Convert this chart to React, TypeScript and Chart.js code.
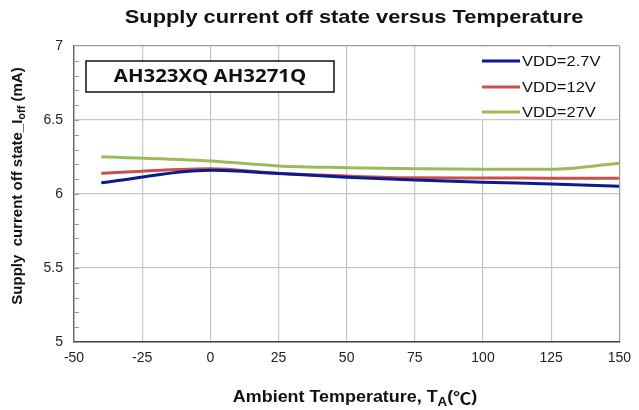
import { useEffect, useRef } from 'react';
import { Chart, registerables } from 'chart.js';
Chart.register(...registerables);

const temperatures = [-40, 0, 25, 50, 75, 100, 125, 150];
const seriesLabels = ['VDD=2.7V', 'VDD=12V', 'VDD=27V'];
const vdd2p7 = [6.076, 6.16, 6.138, 6.114, 6.095, 6.079, 6.068, 6.052];
const vdd12 = [6.14, 6.17, 6.14, 6.121, 6.109, 6.108, 6.107, 6.106];
const vdd27 = [6.252, 6.223, 6.19, 6.178, 6.171, 6.167, 6.167, 6.207];
const seriesColors = ['#0b1a8f', '#c9504c', '#9bbb59'];
const xTicks = [-50, -25, 0, 25, 50, 75, 100, 125, 150];
const yTicks = [5, 5.5, 6, 6.5, 7];

const chartTitle = 'Supply current off state versus Temperature';
const boxLabel = 'AH323XQ AH3271Q';

type Seg = { t: string; sub?: boolean; font?: string };

function drawSegs(
  ctx: CanvasRenderingContext2D,
  segs: Seg[],
  size: number,
  x: number,
  y: number,
  sx = 1,
  weight = 'bold'
) {
  const fontFor = (s: Seg) => {
    const sz = s.sub ? Math.round(size * 0.72) : size;
    const fam = s.font || '"Liberation Sans", Arial, sans-serif';
    return `${weight} ${sz}px ${fam}`;
  };
  let total = 0;
  for (const s of segs) {
    ctx.font = fontFor(s);
    total += ctx.measureText(s.t).width;
  }
  ctx.save();
  ctx.translate(x, y);
  ctx.scale(sx, 1);
  let cx = -total / 2;
  ctx.textAlign = 'left';
  ctx.textBaseline = 'middle';
  for (const s of segs) {
    ctx.font = fontFor(s);
    ctx.fillText(s.t, cx, s.sub ? size * 0.28 : 0);
    cx += ctx.measureText(s.t).width;
  }
  ctx.restore();
}

const decorations = {
  id: 'decorations',
  beforeDatasetsDraw(chart: any) {
    const { ctx, chartArea } = chart;
    const ys = chart.scales.y;
    ctx.save();
    // minor ticks on y axis
    ctx.strokeStyle = '#9a9a9a';
    ctx.lineWidth = 1;
    for (let i = 1; i < 20; i++) {
      const v = 5 + i * 0.1;
      const py = Math.round(ys.getPixelForValue(v)) + 0.5;
      ctx.beginPath();
      ctx.moveTo(chartArea.left, py);
      ctx.lineTo(chartArea.left + 5, py);
      ctx.stroke();
    }
    // label box
    ctx.fillStyle = '#ffffff';
    ctx.fillRect(86, 61, 248, 31);
    ctx.strokeStyle = '#111';
    ctx.lineWidth = 1.5;
    ctx.strokeRect(86, 61, 248, 31);
    ctx.fillStyle = '#111';
    drawSegs(ctx, [{ t: boxLabel, font: '"Open Sans", "Liberation Sans", sans-serif' }], 17, 210, 77, 1.2);
    // legend background
    ctx.fillStyle = '#ffffff';
    ctx.fillRect(476, chartArea.top + 1, chartArea.right - 477, 72);
    ctx.restore();
  },
  afterDraw(chart: any) {
    const { ctx } = chart;
    ctx.save();
    // legend
    const rows = [61, 87, 112];
    chart.data.datasets.forEach((ds: any, i: number) => {
      ctx.strokeStyle = ds.borderColor;
      ctx.lineWidth = 3;
      ctx.beginPath();
      ctx.moveTo(482, rows[i]);
      ctx.lineTo(520, rows[i]);
      ctx.stroke();
      ctx.fillStyle = '#111';
      ctx.font = '15px "Liberation Sans", Arial, sans-serif';
      const w = ctx.measureText(ds.label).width;
      drawSegs(ctx, [{ t: ds.label }], 15, 522 + (w * 1.1) / 2, rows[i] + 1, 1.1, 'normal');
    });
    // title
    ctx.fillStyle = '#111';
    drawSegs(ctx, [{ t: chartTitle }], 19, 354, 18, 1.15);
    // x axis title
    drawSegs(
      ctx,
      [
        { t: 'Ambient Temperature, T' },
        { t: 'A', sub: true },
        { t: '(' },
        { t: '℃', font: '"Noto Sans CJK SC", sans-serif' },
        { t: ')' },
      ],
      16,
      355,
      398,
      1.12
    );
    // y axis title
    ctx.translate(18, 186);
    ctx.rotate(-Math.PI / 2);
    drawSegs(
      ctx,
      [{ t: 'Supply  current off state_I' }, { t: 'off', sub: true }, { t: ' (mA)' }],
      15,
      0,
      0
    );
    ctx.restore();
  },
};

export default function App() {
  const ref = useRef<HTMLCanvasElement | null>(null);
  useEffect(() => {
    if (!ref.current) return;
    const mk = (label: string, data: number[], color: string) => ({
      label,
      data: temperatures.map((t, i) => ({ x: t, y: data[i] })),
      borderColor: color,
      backgroundColor: color,
      borderWidth: 3,
      pointRadius: 0,
      cubicInterpolationMode: 'monotone' as const,
      fill: false,
    });
    const tickFont = { family: '"Liberation Sans", Arial, sans-serif', size: 14 };
    const chart = new Chart(ref.current, {
      type: 'line',
      data: {
        datasets: [
          mk(seriesLabels[0], vdd2p7, seriesColors[0]),
          mk(seriesLabels[1], vdd12, seriesColors[1]),
          mk(seriesLabels[2], vdd27, seriesColors[2]),
        ],
      },
      options: {
        animation: false,
        responsive: false,
        devicePixelRatio: 1,
        layout: { padding: { left: 0, right: 13, top: 46, bottom: 0 } },
        plugins: { legend: { display: false }, title: { display: false }, tooltip: { enabled: false } },
        scales: {
          x: {
            type: 'linear',
            min: -50,
            max: 150,
            afterBuildTicks: (s: any) => {
              s.ticks = xTicks.map((v) => ({ value: v }));
            },
            afterFit: (s: any) => {
              s.height = 68;
            },
            grid: {
              color: (c: any) => (c.tick && c.tick.value === 150 ? '#9a9a9a' : '#c6c6c6'),
              lineWidth: 1.2,
              drawTicks: false,
            },
            border: { color: '#444', width: 1.6 },
            ticks: {
              padding: 8,
              color: '#222',
              font: tickFont,
              callback: (v: any) => String(v),
            },
          },
          y: {
            type: 'linear',
            min: 5,
            max: 7,
            afterBuildTicks: (s: any) => {
              s.ticks = yTicks.map((v) => ({ value: v }));
            },
            afterFit: (s: any) => {
              s.width = 74;
            },
            grid: {
              color: (c: any) => (c.tick && c.tick.value === 7 ? '#9a9a9a' : '#c6c6c6'),
              lineWidth: 1.2,
              drawTicks: false,
            },
            border: { color: '#666', width: 1.4 },
            ticks: {
              padding: 11,
              color: '#222',
              font: tickFont,
              callback: (v: any) => String(v),
            },
          },
        },
      },
      plugins: [decorations],
    });
    return () => chart.destroy();
  }, []);
  return (
    <div style={{ position: 'fixed', left: 0, top: 0, width: 639, height: 410, background: '#fff' }}>
      <canvas ref={ref} width={639} height={410} style={{ width: 639, height: 410 }} />
    </div>
  );
}
